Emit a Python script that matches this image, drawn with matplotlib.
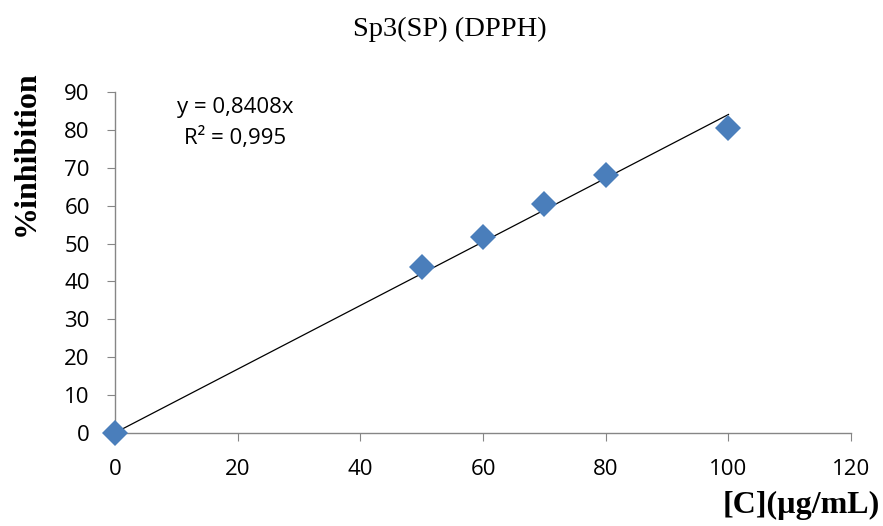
import numpy as np
import matplotlib
matplotlib.use('Agg')
import matplotlib.pyplot as plt

conc = [0, 50, 60, 70, 80, 100]
inhib = [0, 43.8, 51.7, 60.4, 68.1, 80.5]
slope = 0.8408
eq_text = 'y = 0,8408x\nR² = 0,995'

fig = plt.figure(figsize=(8.83, 5.26), dpi=100)
ax = fig.add_axes([0.130, 0.177, 0.834, 0.648])

xfit = np.array([0, 100])
ax.plot(xfit, slope * xfit, color='black', lw=0.9, zorder=2)
ax.plot(conc, inhib, 'D', color='#4a7ebb', markersize=13, markeredgewidth=0, zorder=3, clip_on=False)

ax.set_xlim(0, 120)
ax.set_ylim(0, 90)
ax.set_xticks(range(0, 121, 20))
ax.set_yticks(range(0, 91, 10))
for s in ['top', 'right']:
    ax.spines[s].set_visible(False)
for s in ['left', 'bottom']:
    ax.spines[s].set_color('#868686')
    ax.spines[s].set_linewidth(1)
ax.tick_params(colors='#868686', labelcolor='black', length=6, labelsize=16, direction='out')
for lab in ax.get_xticklabels() + ax.get_yticklabels():
    lab.set_family('Open Sans')
ax.tick_params(axis='x', pad=13)
ax.tick_params(axis='y', pad=12)

ax.text(19.6, 81.8, eq_text, ha='center', va='center', fontsize=16, family='Open Sans', linespacing=1.5)

fig.text(0.509, 0.945, 'Sp3(SP) (DPPH)', ha='center', va='center', fontsize=20.5, family='Liberation Serif')
fig.text(0.030, 0.709, '%inhibition', ha='center', va='center', rotation=90, fontsize=23,
         fontweight='bold', family='Liberation Serif')
fig.text(0.997, 0.040, '[C](µg/mL)', ha='right', va='center', fontsize=23,
         fontweight='bold', family='Liberation Serif')

fig.savefig('out.png', dpi=100)
